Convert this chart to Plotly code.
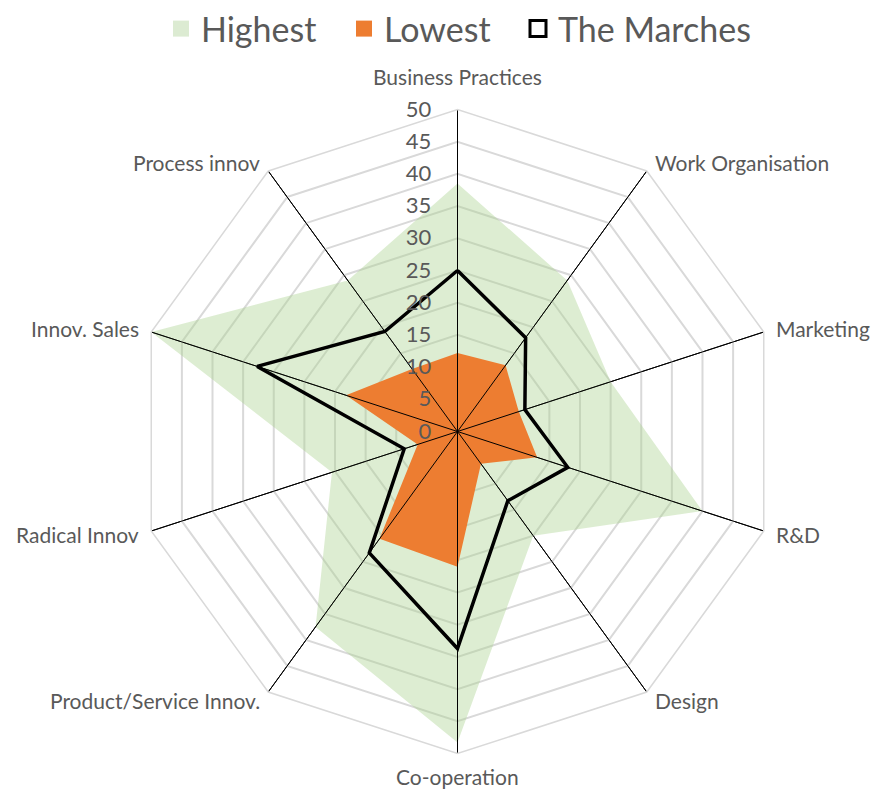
import math
import plotly.graph_objects as go

categories = ["Business Practices", "Work Organisation", "Marketing", "R&D", "Design",
              "Co-operation", "Product/Service Innov.", "Radical Innov", "Innov. Sales", "Process innov"]
highest = [38.5, 29, 25, 40, 20, 48.3, 37.5, 20.5, 50, 29]
lowest = [12.2, 12.7, 10, 13, 6.2, 21, 20.6, 6.5, 18.2, 12]
marches = [25, 18, 11, 18, 13.3, 33.7, 23.3, 8.7, 32.7, 19.2]
tick_vals = list(range(0, 55, 5))
r_max = 50

FONT = "Lato"
GRAY = "#595959"
GRID = "#d9d9d9"
GREEN = "rgba(169,209,142,0.40)"
ORANGE = "#ed7d31"

# the page body has an 8px margin: size the figure so it fits the window
W, H = 872, 786
CX, CY, R = 449.5, 423.5, 322  # polar centre / radius in figure pixels


def closed(vals):
    return list(vals) + [vals[0]]


fig = go.Figure()
fig.add_trace(go.Scatterpolar(r=closed(highest), theta=closed(categories), mode="lines",
                              fill="toself", fillcolor=GREEN, line=dict(width=0, color=GREEN),
                              name="Highest", showlegend=False, hoverinfo="skip"))
fig.add_trace(go.Scatterpolar(r=closed(lowest), theta=closed(categories), mode="lines",
                              fill="toself", fillcolor=ORANGE, line=dict(width=0, color=ORANGE),
                              name="Lowest", showlegend=False, hoverinfo="skip"))
# spokes drawn above the fills
sp_r, sp_t = [], []
for c in categories:
    sp_r += [0, r_max, None]
    sp_t += [c, c, None]
fig.add_trace(go.Scatterpolar(r=sp_r, theta=sp_t, mode="lines", line=dict(color="black", width=1),
                              showlegend=False, hoverinfo="skip", connectgaps=False))
fig.add_trace(go.Scatterpolar(r=closed(marches), theta=closed(categories), mode="lines",
                              line=dict(color="black", width=3.5), name="The Marches",
                              showlegend=False))

# legend entries (one legend per entry so each can be placed)
legend_items = [("Highest", dict(symbol="square", size=18, color="#dcebd2"), "legend"),
                ("Lowest", dict(symbol="square", size=18, color=ORANGE), "legend2"),
                ("The Marches", dict(symbol="square-open", size=18, color="black",
                                     line=dict(width=3, color="black")), "legend3")]
for name, mk, lg in legend_items:
    fig.add_trace(go.Scatterpolar(r=[None], theta=[categories[0]], mode="markers", name=name,
                                  marker=mk, legend=lg))

sym_centers = [181 - 8, 362 - 8, 539 - 8]  # figure px
leg_common = dict(orientation="h", xanchor="left", y=1 + 8 / H, yanchor="top",
                  font=dict(size=34, color=GRAY, family=FONT), bgcolor="rgba(0,0,0,0)",
                  borderwidth=0)
legs = {}
for key, sc, dx in zip(["legend", "legend2", "legend3"], sym_centers, [0, 2, -1]):
    legs[key] = dict(x=(sc - 20 + dx) / W, **leg_common)

# category labels placed just outside each spoke
annotations = []
n = len(categories)
for i, c in enumerate(categories):
    ang = 2 * math.pi * i / n
    s, co = math.sin(ang), math.cos(ang)
    if abs(s) < 1e-6:
        gap = 18 if co > 0 else 8
        xa, ya = "center", ("bottom" if co > 0 else "top")
    else:
        gap = 11
        xa, ya = ("left" if s > 0 else "right"), "middle"
    px = CX + (R + gap) * s
    py = CY - (R + gap) * co
    annotations.append(dict(text=c, x=px / W, y=1 - py / H, xref="paper", yref="paper",
                            xanchor=xa, yanchor=ya, showarrow=False,
                            font=dict(size=21, color=GRAY, family=FONT)))

fig.update_layout(
    width=W, height=H,
    margin=dict(l=0, r=0, t=0, b=0, autoexpand=False),
    paper_bgcolor="white",
    plot_bgcolor="white",
    font=dict(family=FONT, color=GRAY, size=22),
    showlegend=True,
    annotations=annotations,
    **legs,
    polar=dict(
        domain=dict(x=[(CX - R) / W, (CX + R) / W], y=[1 - (CY + R) / H, 1 - (CY - R) / H]),
        bgcolor="white",
        gridshape="linear",
        radialaxis=dict(range=[0, r_max], tickvals=tick_vals, angle=90, side="counterclockwise",
                        showline=False, gridcolor=GRID, gridwidth=1.5, ticks="outside",
                        ticklen=18, tickcolor="rgba(0,0,0,0)", tickangle=90,
                        tickfont=dict(size=22, color=GRAY, family=FONT)),
        angularaxis=dict(categoryorder="array", categoryarray=categories, direction="clockwise",
                         rotation=90, showline=True, linecolor=GRID, linewidth=1.5,
                         gridcolor="black", gridwidth=1, showticklabels=False, ticks=""),
    ),
)

fig.write_html("out.html")
